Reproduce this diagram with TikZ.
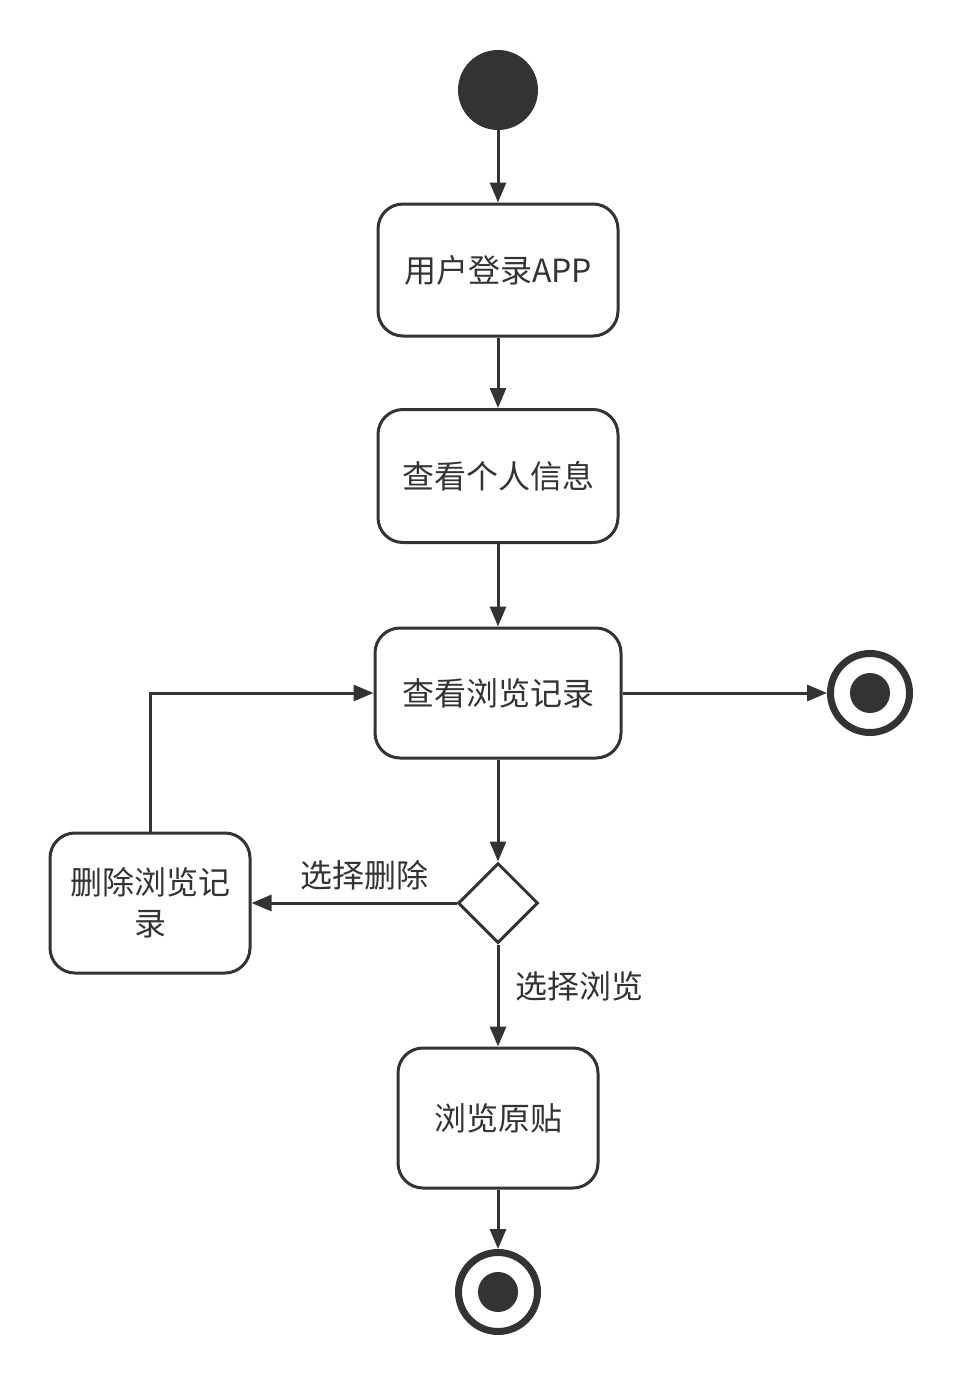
\documentclass[tikz,border=0pt]{standalone}
\usepackage{fontspec}
\setmainfont{Noto Sans CJK SC}
\usetikzlibrary{shapes.geometric,arrows.meta}
\definecolor{ink}{HTML}{333333}
\begin{document}
\begin{tikzpicture}[x=1pt,y=-1pt,
  act/.style={draw=ink,line width=3pt,rounded corners=25pt,fill=white,align=center,font=\fontsize{32}{41}\selectfont,text=ink,inner sep=0pt},
  flow/.style={draw=ink,line width=3pt,-{Triangle[length=20pt,width=16pt]}},
  lbl/.style={font=\fontsize{32}{40}\selectfont,text=ink,inner sep=0pt}]
\useasboundingbox (0,0) rectangle (960,1381);
\node[circle,fill=ink,minimum size=80pt,inner sep=0pt] (start) at (498,90) {};
\node[act,minimum width=240pt,minimum height=132pt] (login) at (498,270) {\raisebox{-2pt}{用户登录APP}};
\node[act,minimum width=240pt,minimum height=133pt] (info) at (498,476) {\raisebox{-2pt}{查看个人信息}};
\node[act,minimum width=246pt,minimum height=130pt] (hist) at (498,693) {\raisebox{-2pt}{查看浏览记录}};
\node[circle,draw=ink,line width=7pt,fill=white,minimum size=79pt,inner sep=0pt] (end1) at (870,693) {};
\fill[ink] (end1.center) circle (20pt);
\node[diamond,draw=ink,line width=3pt,fill=white,minimum width=80pt,minimum height=80pt,inner sep=0pt,aspect=1] (dec) at (498,903) {};
\node[act,minimum width=200pt,minimum height=140pt] (del) at (150,903) {删除浏览记\\录};
\node[act,minimum width=200pt,minimum height=140pt] (view) at (498,1118) {\raisebox{-2pt}{浏览原贴}};
\node[circle,draw=ink,line width=7pt,fill=white,minimum size=79pt,inner sep=0pt] (end2) at (498,1292) {};
\fill[ink] (end2.center) circle (20pt);
\coordinate (corner) at (150,693);
\draw[flow] (start) -- (login);
\draw[flow] (login) -- (info);
\draw[flow] (info) -- (hist);
\draw[flow] (hist) -- (end1);
\draw[flow] (hist) -- (dec);
\draw[flow] (dec) -- node[lbl,above=11pt,pos=0.45] {选择删除} (del);
\draw[flow] (dec) -- node[lbl,right=16pt,pos=0.41] {选择浏览} (view);
\draw[flow] (del.north) -- (corner) -- (hist.west);
\draw[flow] (view) -- (end2);
\end{tikzpicture}
\end{document}
